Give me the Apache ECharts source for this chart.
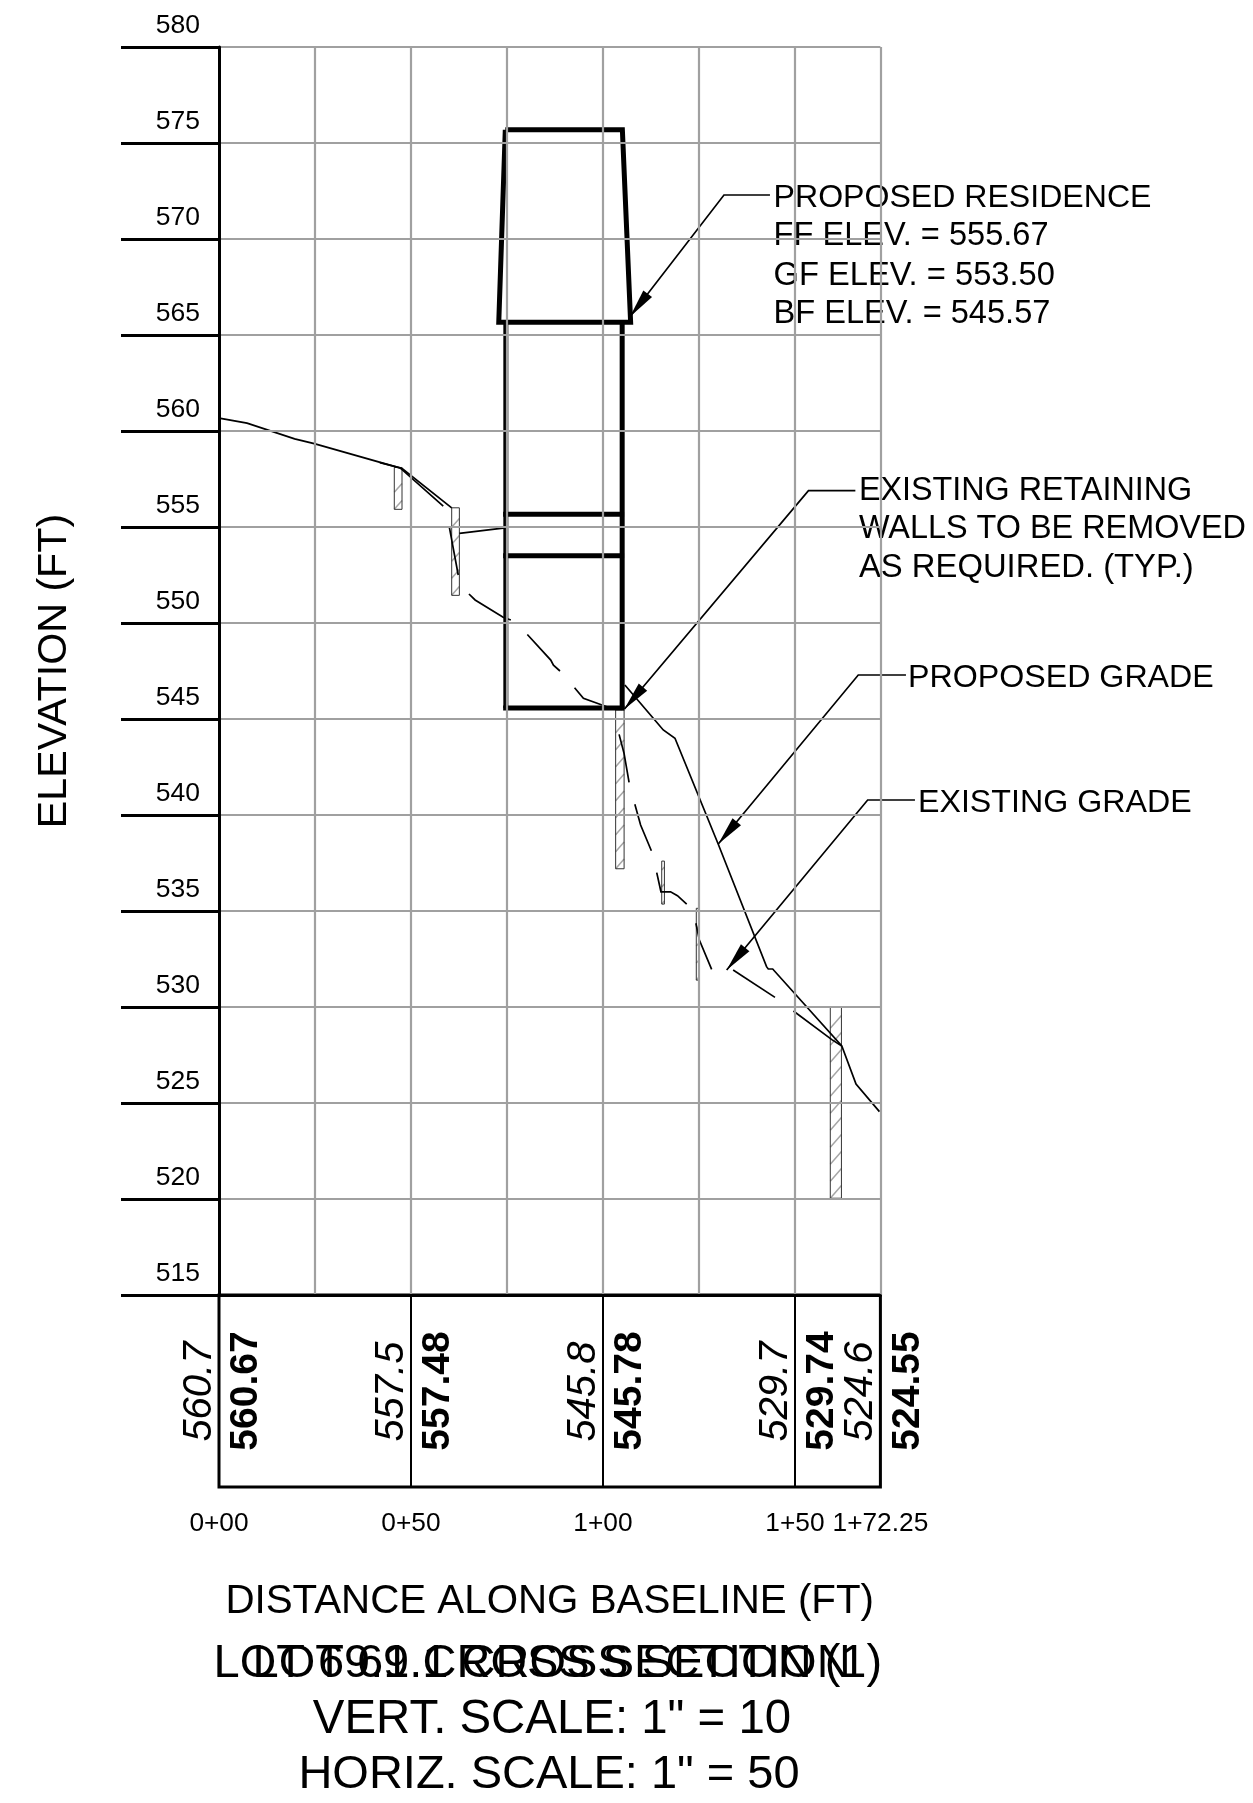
<!DOCTYPE html>
<html><head><meta charset="utf-8">
<style>html,body{margin:0;padding:0;background:#fff}#c{width:1253px;height:1803px}</style>
<script src="https://cdn.jsdelivr.net/npm/echarts@6/dist/echarts.min.js"></script>
</head><body><div id="c"></div>
<script>
const FONT = '"Liberation Sans", Arial, sans-serif';
const axisTitleY = 'ELEVATION (FT)';
const axisTitleX = 'DISTANCE ALONG BASELINE (FT)';
const titleLines = ['LOT 69.1 CROSS SECTION (1)', 'LOT 69.1 CROSS SECTION', 'VERT. SCALE: 1" = 10', 'HORIZ. SCALE: 1" = 50'];
const stationLabels = {0:'0+00', 50:'0+50', 100:'1+00', 150:'1+50', 172.25:'1+72.25'};

// station table values: [distance, text]
const existingElevations = [[0,'560.7'],[50,'557.5'],[100,'545.8'],[150,'529.7'],[172.25,'524.6']];
const proposedElevations = [[0,'560.67'],[50,'557.48'],[100,'545.78'],[150,'529.74'],[172.25,'524.55']];

// proposed grade polylines
const proposedA = [[0.4,560.66],[7.3,560.41],[19.7,559.59],[24.8,559.34],[47.7,558.04],[60.6,556.0]];
const proposedB = [[62.6,554.67],[74.5,554.95]];
const proposedC = [[105.7,546.77],[113.1,545.04],[115.7,544.43],[118.75,544.0],[130,538.49],[142.6,532.1],[143.05,531.98],[144.2,531.98],[162.2,527.97],[165.9,525.99],[172.0,524.55]];

// existing grade, broken segments
const existingSegments = [
  [[41.9,558.35],[47.1,558.09],[58.4,556.09]],
  [[60.0,554.98],[62.3,552.5]],
  [[65.1,551.51],[66.7,551.2],[74.0,550.3],[76.0,550.16]],
  [[80.3,549.4],[86.4,548.07],[87.1,547.8],[88.8,547.5]],
  [[92.6,546.63],[94.9,546.08],[101,545.64],[104.9,545.5]],
  [[104.2,544.2],[105.5,543.2],[106.8,541.7]],
  [[108.3,540.56],[109.8,539.48],[112.6,538.14]],
  [[114,537],[115.1,536],[117.6,536],[119.4,535.8],[121.8,535.36]],
  [[124.2,534.36],[125.1,533.49],[128.3,531.96]],
  [[133.9,531.93],[144.8,530.5]],
  [[149.6,529.79],[159.6,528.3],[162.2,527.97]]
];

// residence outline
const roof = [[74.56,575.69],[105.05,575.69],[107.2,565.66],[72.86,565.66],[74.56,575.69]];
const leftWall = [[74.7,565.66],[74.7,545.57]];
const rightWall = [[105,565.66],[105,545.57]];
const floors = [[[74,555.67],[105.5,555.67]],[[74,553.5],[105.5,553.5]],[[74,545.57],[105.6,545.57]]];

// retaining walls: [x0, x1, top, bottom]
const retainingWalls = [
  [45.65,47.66,558.1,555.92],
  [60.6,62.6,556,551.44],
  [103.3,105.5,545.47,537.2],
  [115.3,116,537.6,535.36],
  [124.3,125,535.14,531.4],
  [159.2,162.1,530,520.04]
];
</script>
<script>
// callouts, in chart units
const X = px => (px - 219) / 3.84, Y = py => 580 - (py - 47) / 19.2;
const leaderPaths = [
  [[770,195],[724,195],[630,316.7]],
  [[855.4,490.7],[808.5,490.7],[624.3,709.3]],
  [[906,675],[858.3,675],[718.3,844]],
  [[915,800],[867.7,800],[726.7,970]]
].map(p => p.map(([a,b]) => [X(a),Y(b)]));
const calloutText = [
  ['PROPOSED RESIDENCE',773.6,198,32.1],['FF ELEV. = 555.67',773.6,236.5,32.6],['GF ELEV. = 553.50',773.6,275.5,32.7],['BF ELEV. = 545.57',773.6,314.5,32.6],
  ['EXISTING RETAINING',859,491,32.3],['WALLS TO BE REMOVED',859,529,32.4],['AS REQUIRED. (TYP.)',859,568,32.8],
  ['PROPOSED GRADE',908,678,32.2],['EXISTING GRADE',918,803,32.2]
].map(([t,a,b,s]) => ({value:[X(a),Y(b)], name:t, label:{fontSize:s}}));

const lineSeries = (data, width) => ({type:'line', data, showSymbol:false, symbol:'none', silent:true, clip:false, z:2,
  lineStyle:{color:'#000', width, cap:'butt', join:'miter'}});

const series = [];
[proposedA, proposedB, proposedC].forEach(d => series.push(lineSeries(d,1.7)));
existingSegments.forEach(d => series.push(lineSeries(d,1.7)));
[roof,leftWall,rightWall].forEach(d => series.push(lineSeries(d,5)));
floors.forEach(d => series.push(lineSeries(d,5)));

series.push({type:'custom', coordinateSystem:'cartesian2d', clip:false, silent:true, z:2,
  data: retainingWalls.map(w => [w[0],w[2]]),
  renderItem(params, api){
    const w = retainingWalls[params.dataIndex];
    const a = api.coord([w[0],w[2]]), b = api.coord([w[1],w[3]]);
    const children = [];
    const W = b[0]-a[0], rise = W*1.15;
    for (let y = b[1]; y - rise >= a[1] - 0.5; y -= 17){
      children.push({type:'line', shape:{x1:a[0],y1:y,x2:b[0],y2:y-rise}, style:{stroke:'#a6a6a6',lineWidth:1.5}});
    }
    children.push({type:'rect', shape:{x:a[0],y:a[1],width:W,height:b[1]-a[1]}, style:{fill:'none',stroke:'#333',lineWidth:1}});
    return {type:'group', children};
  }});

series.push({type:'custom', coordinateSystem:'cartesian2d', clip:false, silent:true, z:2,
  data: leaderPaths.map(p => p[2]),
  renderItem(params, api){
    const pts = leaderPaths[params.dataIndex].map(p => api.coord(p));
    const tip = pts[2], from = pts[1];
    const dx = from[0]-tip[0], dy = from[1]-tip[1], L = Math.hypot(dx,dy), ux = dx/L, uy = dy/L;
    const bx = tip[0]+ux*29, by = tip[1]+uy*29, h = 5.5;
    return {type:'group', children:[
      {type:'polyline', shape:{points:pts}, style:{fill:'none',stroke:'#000',lineWidth:1.7}},
      {type:'polygon', shape:{points:[tip,[bx-uy*h,by+ux*h],[bx+uy*h,by-ux*h]]}, style:{fill:'#000'}}
    ]};
  }});

series.push({type:'scatter', data:calloutText, symbolSize:0, clip:false, silent:true, z:2, itemStyle:{opacity:1},
  label:{show:true, position:'inside', align:'left', verticalAlign:'middle', formatter:p=>p.name, color:'#000', fontFamily:FONT, fontSize:32.2}});

const offset = 6.3, shift = 1.2, rowElev = 510;
series.push({type:'scatter', xAxisIndex:1, yAxisIndex:1, clip:false, silent:true, symbolSize:0, z:2, itemStyle:{opacity:1},
  data: existingElevations.map(([x,t]) => ({value:[x-offset+shift,rowElev-0.03], name:t})),
  label:{show:true, position:'inside', rotate:90, align:'center', verticalAlign:'middle', formatter:p=>p.name, color:'#000', fontFamily:FONT, fontStyle:'italic', fontSize:40}});
series.push({type:'scatter', xAxisIndex:1, yAxisIndex:1, clip:false, silent:true, symbolSize:0, z:2, itemStyle:{opacity:1},
  data: proposedElevations.map(([x,t]) => ({value:[x+offset+shift-0.3,rowElev], name:t})),
  label:{show:true, position:'inside', rotate:90, align:'center', verticalAlign:'middle', formatter:p=>p.name, color:'#000', fontFamily:FONT, fontWeight:'bold', fontSize:39}});

const titleStyle = s => ({fontFamily:FONT,fontSize:s,fontWeight:'normal',color:'#000'});
const option = {
  animation:false, backgroundColor:'#fff',
  textStyle:{fontFamily:FONT},
  title: [
    {text:titleLines[0], left:208.5, top:1659, textAlign:'left', textVerticalAlign:'middle', textStyle:titleStyle(47)},
    {text:titleLines[1], left:247.5, top:1659, textAlign:'left', textVerticalAlign:'middle', textStyle:titleStyle(47)},
    {text:titleLines[2], left:547, top:1715, textAlign:'center', textVerticalAlign:'middle', textStyle:titleStyle(47.4)},
    {text:titleLines[3], left:544, top:1770, textAlign:'center', textVerticalAlign:'middle', textStyle:titleStyle(47)}
  ],
  grid:[
    {left:219, width:661.4, top:47, height:1248},
    {left:219, width:661.4, top:1295, height:192, show:true, borderColor:'#000', borderWidth:3, backgroundColor:'transparent'}
  ],
  xAxis:[
    {type:'value', gridIndex:0, min:0, max:172.25, interval:25, z:10,
      axisLine:{show:true, onZero:false, lineStyle:{color:'#000',width:3}}, axisTick:{show:false}, axisLabel:{show:false},
      splitLine:{show:true, showMinLine:false, lineStyle:{color:'#a0a0a0',width:2.2}}},
    {type:'value', gridIndex:1, min:0, max:172.25, interval:50, z:10,
      name:axisTitleX, nameLocation:'middle', nameGap:114.5, nameTextStyle:{fontFamily:FONT,fontSize:40.3,color:'#000',verticalAlign:'middle'},
      axisLine:{show:false}, axisTick:{show:false},
      axisLabel:{show:true, margin:24, color:'#000', fontFamily:FONT, fontSize:26.3, hideOverlap:false, showMinLabel:true, showMaxLabel:true,
        formatter:v=>stationLabels[v] ?? ''},
      splitLine:{show:true, showMinLine:false, showMaxLine:false, lineStyle:{color:'#000',width:2}}}
  ],
  yAxis:[
    {type:'value', gridIndex:0, min:515, max:580, interval:5, z:10,
      name:axisTitleY, nameLocation:'middle', nameGap:144, nameTextStyle:{fontFamily:FONT,fontSize:41.2,color:'#000'},
      axisLine:{show:true, onZero:false, lineStyle:{color:'#000',width:3}},
      axisTick:{show:true, length:98, lineStyle:{color:'#000',width:3.2}},
      axisLabel:{show:true, margin:19, align:'right', verticalAlign:'bottom', padding:[0,0,8,0], color:'#000', fontFamily:FONT, fontSize:26.5, showMinLabel:true, showMaxLabel:true},
      splitLine:{show:true, showMinLine:false, lineStyle:{color:'#a0a0a0',width:2.2}}},
    {type:'value', gridIndex:1, min:505, max:515, interval:10, show:false, splitLine:{show:false}}
  ],
  series
};
echarts.init(document.getElementById('c'), null, {renderer:'canvas'}).setOption(option);
</script>
</body></html>
